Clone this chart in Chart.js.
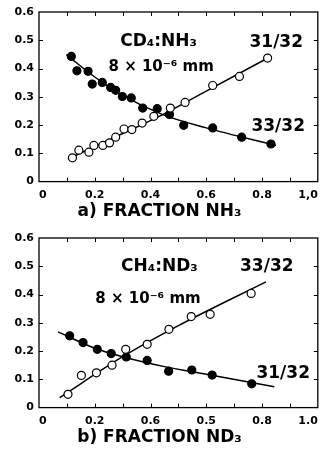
<!DOCTYPE html>
<html>
<head>
<meta charset="utf-8">
<script src="https://cdn.jsdelivr.net/npm/chart.js@4"></script>
<style>
  html, body { margin: 0; padding: 0; background: #fff; }
  canvas { display: block; }
</style>
</head>
<body>
<canvas id="chartA" width="323" height="226"></canvas>
<canvas id="chartB" width="323" height="226"></canvas>
<script>
// panel a) CD4:NH3, 8 x 10^-6 mm
const aOpenX   = [0.120, 0.143, 0.179, 0.197, 0.229, 0.253, 0.275, 0.305, 0.333, 0.370, 0.412, 0.471, 0.524, 0.623, 0.719, 0.820];
const aOpenY   = [0.084, 0.111, 0.104, 0.128, 0.128, 0.137, 0.157, 0.186, 0.184, 0.207, 0.231, 0.260, 0.280, 0.340, 0.372, 0.437];
const aFilledX = [0.116, 0.136, 0.176, 0.191, 0.227, 0.257, 0.275, 0.299, 0.331, 0.372, 0.424, 0.468, 0.519, 0.623, 0.727, 0.832];
const aFilledY = [0.443, 0.392, 0.390, 0.345, 0.351, 0.333, 0.323, 0.301, 0.296, 0.260, 0.258, 0.237, 0.199, 0.190, 0.157, 0.133];
const aFit31X  = [0.104, 0.300, 0.444, 0.600, 0.826];
const aFit31Y  = [0.080, 0.170, 0.237, 0.320, 0.440];
const aFit33X  = [0.098, 0.200, 0.300, 0.444, 0.600, 0.850];
const aFit33Y  = [0.449, 0.370, 0.305, 0.237, 0.190, 0.128];

// panel b) CH4:ND3, 8 x 10^-6 mm
const bOpenX   = [0.104, 0.152, 0.206, 0.262, 0.311, 0.388, 0.466, 0.546, 0.614, 0.761];
const bOpenY   = [0.047, 0.114, 0.123, 0.150, 0.206, 0.224, 0.277, 0.322, 0.330, 0.404];
const bFilledX = [0.110, 0.158, 0.209, 0.259, 0.313, 0.388, 0.465, 0.548, 0.621, 0.763];
const bFilledY = [0.254, 0.230, 0.206, 0.191, 0.179, 0.167, 0.129, 0.133, 0.115, 0.084];
const bFit33X  = [0.074, 0.300, 0.500, 0.814];
const bFit33Y  = [0.035, 0.180, 0.290, 0.445];
const bFit31X  = [0.068, 0.200, 0.300, 0.450, 0.600, 0.844];
const bFit31Y  = [0.268, 0.210, 0.180, 0.145, 0.118, 0.074];

// tick labels as printed (panel b really says 0.6 / 0.5 there)
const aXLabels = ['0', '0.2', '0.4', '0.6', '0.8', '1,0'];
const bXLabels = ['0', '0.2', '0.6', '0.5', '0.8', '1.0'];
const yLabels  = ['0', '0.1', '0.2', '0.3', '0.4', '0.5', '0.6'];

const FONT = 'DejaVu Sans';

function pts(xs, ys) {
  return xs.map((x, i) => ({ x: x, y: ys[i] }));
}

// box round the plot, little inward ticks, and the text labels
const framePlugin = {
  id: 'frame',
  afterDatasetsDraw(chart, args, opts) {
    const ctx = chart.ctx;
    const a = chart.chartArea;
    const xs = chart.scales.x, ys = chart.scales.y;
    ctx.save();
    ctx.strokeStyle = '#000';
    ctx.lineWidth = 1.3;
    ctx.strokeRect(a.left, a.top, a.right - a.left, a.bottom - a.top);
    ctx.lineWidth = 1;
    ctx.beginPath();
    for (let k = 1; k < 10; k++) {
      const px = Math.round(xs.getPixelForValue(k / 10)) + 0.5;
      ctx.moveTo(px, a.bottom); ctx.lineTo(px, a.bottom - 4);
      ctx.moveTo(px, a.top); ctx.lineTo(px, a.top + 4);
    }
    for (let k = 1; k < 6; k++) {
      const py = Math.round(ys.getPixelForValue(k / 10)) + 0.5;
      ctx.moveTo(a.left, py); ctx.lineTo(a.left + 4, py);
      ctx.moveTo(a.right, py); ctx.lineTo(a.right - 4, py);
    }
    ctx.stroke();

    ctx.fillStyle = '#000';
    ctx.textAlign = 'center';
    ctx.textBaseline = 'middle';
    (opts.notes || []).forEach(n => {
      ctx.font = 'bold ' + n.size + 'px "' + FONT + '"';
      ctx.fillText(n.text, xs.getPixelForValue(n.x), ys.getPixelForValue(n.y));
    });
    ctx.restore();
  }
};

function makeChart(id, title, xLabels, notes, sets) {
  const pointSet = (data, filled) => ({
    data: data,
    showLine: false,
    pointRadius: 4,
    pointHoverRadius: 4,
    pointBorderWidth: 1.2,
    pointBorderColor: '#000',
    pointBackgroundColor: filled ? '#000' : '#fff',
    order: 1
  });
  const lineSet = (data) => ({
    data: data,
    showLine: true,
    borderColor: '#000',
    borderWidth: 1.5,
    pointRadius: 0,
    cubicInterpolationMode: 'monotone',
    order: 2
  });

  return new Chart(document.getElementById(id), {
    type: 'scatter',
    data: {
      datasets: [
        lineSet(sets.fitOpen),
        lineSet(sets.fitFilled),
        pointSet(sets.open, false),
        pointSet(sets.filled, true)
      ]
    },
    options: {
      responsive: false,
      animation: false,
      devicePixelRatio: 1,
      layout: { padding: { top: 12, right: 4, left: 0, bottom: 0 } },
      plugins: {
        legend: { display: false },
        tooltip: { enabled: false },
        title: {
          display: true,
          position: 'bottom',
          text: title,
          color: '#000',
          font: { family: FONT, size: 17, weight: 'bold' },
          padding: { top: 0, bottom: 4 }
        },
        frame: { notes: notes }
      },
      scales: {
        x: {
          type: 'linear',
          min: 0, max: 1,
          grid: { display: false, drawTicks: false },
          border: { display: false },
          ticks: {
            stepSize: 0.2,
            padding: 7,
            align: 'inner',
            color: '#000',
            font: { family: FONT, size: 11, weight: 'bold' },
            maxRotation: 0,
            callback: (v, i) => xLabels[i]
          },
          afterFit: s => { s.height = 20; s.paddingLeft = 0; s.paddingRight = 0; }
        },
        y: {
          type: 'linear',
          min: 0, max: 0.6,
          grid: { display: false, drawTicks: false },
          border: { display: false },
          ticks: {
            stepSize: 0.1,
            padding: 5,
            color: '#000',
            font: { family: FONT, size: 11, weight: 'bold' },
            callback: (v, i) => yLabels[i]
          },
          afterFit: s => { s.width = 39; s.paddingTop = 0; s.paddingBottom = 0; }
        }
      }
    },
    plugins: [framePlugin]
  });
}

makeChart('chartA', 'a) FRACTION NH₃', aXLabels, [
  { text: 'CD₄:NH₃', x: 0.429, y: 0.495, size: 17 },
  { text: '8 × 10⁻⁶ mm', x: 0.438, y: 0.404, size: 15 },
  { text: '31/32', x: 0.851, y: 0.491, size: 17 },
  { text: '33/32', x: 0.858, y: 0.194, size: 17 }
], {
  open: pts(aOpenX, aOpenY),
  filled: pts(aFilledX, aFilledY),
  fitOpen: pts(aFit31X, aFit31Y),
  fitFilled: pts(aFit33X, aFit33Y)
});

makeChart('chartB', 'b) FRACTION ND₃', bXLabels, [
  { text: 'CH₄:ND₃', x: 0.432, y: 0.498, size: 17 },
  { text: '8 × 10⁻⁶ mm', x: 0.391, y: 0.385, size: 15 },
  { text: '33/32', x: 0.817, y: 0.498, size: 17 },
  { text: '31/32', x: 0.876, y: 0.122, size: 17 }
], {
  open: pts(bOpenX, bOpenY),
  filled: pts(bFilledX, bFilledY),
  fitOpen: pts(bFit33X, bFit33Y),
  fitFilled: pts(bFit31X, bFit31Y)
});
</script>
</body>
</html>
